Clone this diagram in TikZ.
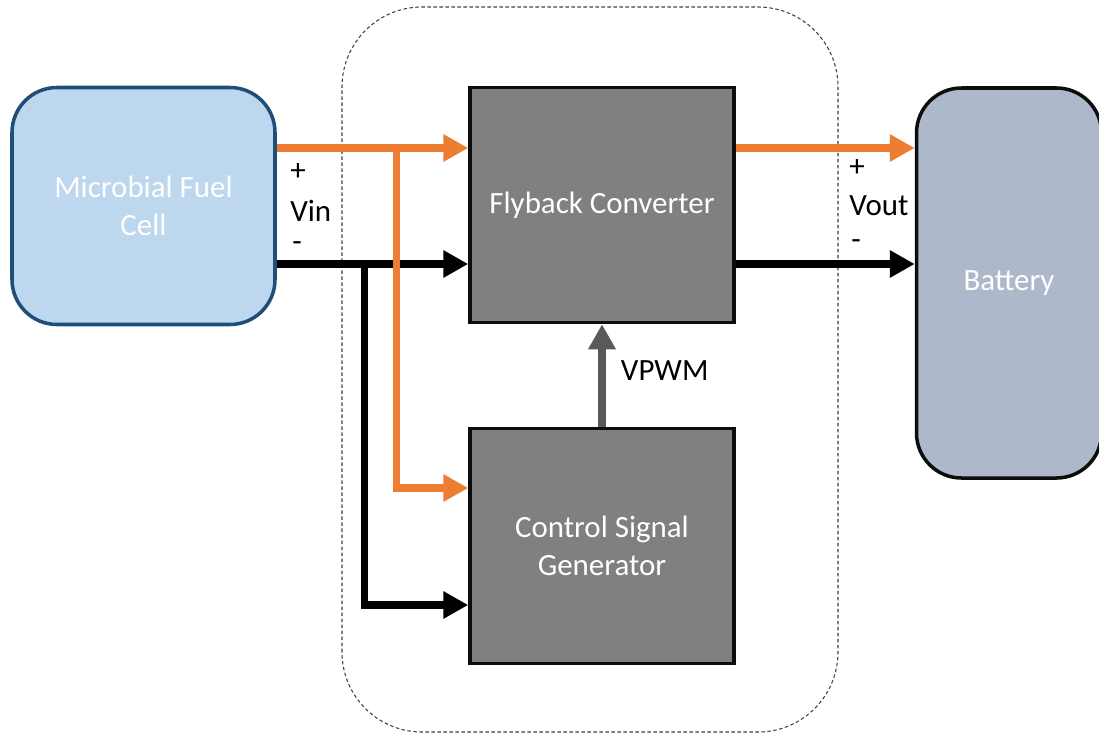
\documentclass[tikz,border=0pt]{standalone}
\usepackage{fontspec}
\setmainfont{Carlito}
\usetikzlibrary{arrows.meta,calc,positioning}

\definecolor{mfcfill}{HTML}{BDD7EE}
\definecolor{mfcline}{HTML}{1F4E79}
\definecolor{batfill}{HTML}{ADB9CA}
\definecolor{boxgray}{HTML}{808080}
\definecolor{pwrorange}{HTML}{ED7D31}
\definecolor{pwmgray}{HTML}{595959}

\begin{document}
\begin{tikzpicture}[
  every node/.style={font=\fontsize{17.6}{21.6}\selectfont},
  block/.style={draw=black!95, line width=2pt, fill=boxgray, text=white,
    minimum width=5.28cm, minimum height=4.7cm, align=center},
  source/.style={draw=mfcline, line width=2pt, fill=mfcfill, text=white,
    rounded corners=0.9cm, minimum width=5.26cm, minimum height=4.74cm, align=center},
  store/.style={draw=black!95, line width=2pt, fill=batfill, text=white,
    rounded corners=0.9cm, minimum width=3.7cm, minimum height=7.8cm},
  posrail/.style={line width=4pt, pwrorange, -{Triangle[length=0.5cm,width=0.52cm]}},
  negrail/.style={line width=4pt, black, -{Triangle[length=0.5cm,width=0.52cm]}},
  pwmline/.style={line width=4.5pt, pwmgray, -{Triangle[length=0.5cm,width=0.52cm]}},
  tag/.style={inner sep=0pt, anchor=west, text=black}
]
\useasboundingbox (0,0) rectangle (21.98,14.68);

% controller enclosure
\draw[black!75, line width=0.6pt, dash pattern=on 0.07cm off 0.05cm, rounded corners=1.6cm]
  (6.84,0.04) rectangle (16.76,14.54);

% blocks
\node[source] (mfc) at (2.87,10.56) {Microbial Fuel\\Cell};
\node[block] (fly) at (12.04,10.58) {Flyback Converter};
\node[block] (csg) at (12.04,3.76) {Control Signal\\Generator};
\node[store] (bat) at (20.18,9.02) {Battery};

% terminals
\coordinate (vinp) at ($(mfc.east)+(0,1.16)$);
\coordinate (vinn) at ($(mfc.east)+(0,-1.16)$);
\coordinate (tapp) at ($(vinp)+(2.4,0)$);
\coordinate (tapn) at ($(vinn)+(1.76,0)$);
\coordinate (voutp) at ($(fly.east)+(0,1.14)$);
\coordinate (voutn) at ($(fly.east)+(0,-1.18)$);

% negative rail
\draw[negrail] (vinn) -- (vinn -| fly.west);
\draw[negrail] (tapn) |- ($(csg.west)+(0,-1.18)$);
\draw[negrail] (voutn) -- (voutn -| bat.west);

% positive rail
\draw[posrail] (vinp) -- (vinp -| fly.west);
\draw[posrail] (tapp) |- ($(csg.west)+(0,1.16)$);
\draw[posrail] (voutp) -- (voutp -| bat.west);

% PWM signal
\draw[pwmline] (csg.north) -- (fly.south) node[midway, right=0.3cm, tag, anchor=west, yshift=0.1cm] (vpwm) {VPWM};

% labels
\node[tag] (vinplus) at (5.8,11.24) {+};
\node[tag] (vin) at (5.8,10.46) {Vin};
\node[tag] (vinminus) at (5.84,9.74) {-};
\node[tag] (voutplus) at (16.98,11.32) {+};
\node[tag] (vout) at (16.98,10.56) {Vout};
\node[tag] (voutminus) at (17.02,9.78) {-};

\end{tikzpicture}
\end{document}
